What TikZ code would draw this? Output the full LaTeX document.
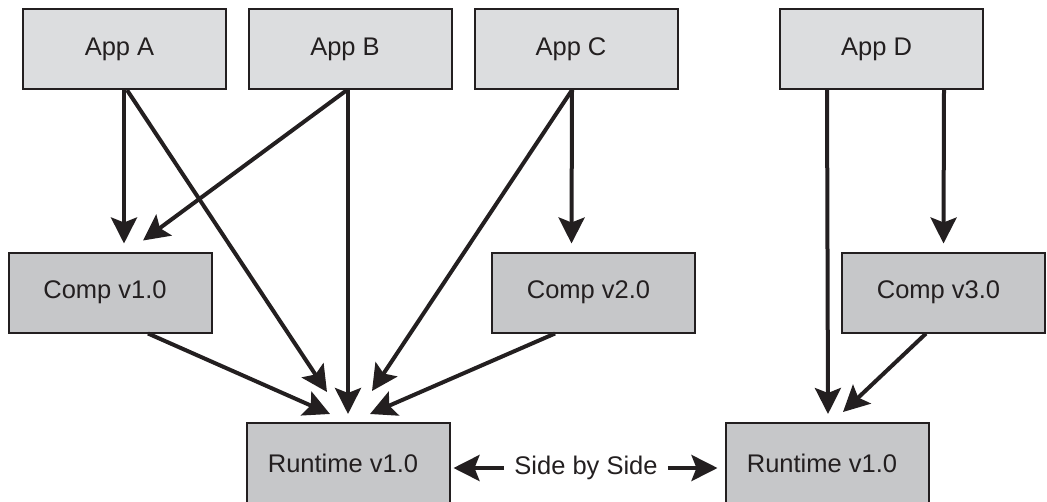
\documentclass[tikz,border=0pt]{standalone}
\usepackage{fontspec}
\setmainfont{Liberation Sans}
\usetikzlibrary{arrows.meta,calc}
\definecolor{ink}{HTML}{231F20}
\definecolor{applight}{HTML}{DCDDDF}
\definecolor{compgrey}{HTML}{C6C7C9}
\tikzset{
  box/.style={draw=ink, line width=2pt, minimum width=203pt, minimum height=80pt,
    inner sep=0pt, font=\fontsize{25.5}{30}\selectfont, text=ink,
    execute at begin node={\hspace*{-10pt}}},
  appbox/.style={box, fill=applight},
  compbox/.style={box, fill=compgrey},
  arr/.style={draw=ink, line width=4pt,
    -{Stealth[length=26pt, width=26pt, inset=5pt]}},
}
\begin{document}
\begin{tikzpicture}[x=1pt, y=-1pt]
\useasboundingbox (0,0) rectangle (1047,501);

% applications
\node[appbox] (appA) at (124.5,49) {App A};
\node[appbox] (appB) at (350,49) {App B};
\node[appbox] (appC) at (576,49) {App C};
\node[appbox] (appD) at (881.5,49) {App D};

% shared components
\node[compbox] (compA) at (110,292.5) {Comp v1.0};
\node[compbox] (compB) at (593.5,292.5) {Comp v2.0};
\node[compbox] (compC) at (943.5,292.5) {Comp v3.0};

% runtimes
\node[compbox] (rtL) at (348,463) {Runtime v1.0};
\node[compbox] (rtR) at (827,463) {Runtime v1.0};

% App A
\draw[arr] ([xshift=-0.5pt]appA.south) -- ([xshift=14pt,yshift=8pt]compA.north);
\draw[arr] ([xshift=2.5pt]appA.south) -- ([xshift=-21pt,yshift=30pt]rtL.north);
% App B
\draw[arr] ([xshift=-3pt]appB.south) -- ([xshift=33pt,yshift=11pt]compA.north);
\draw[arr] ([xshift=-2pt]appB.south) -- ([yshift=8pt]rtL.north);
% App C
\draw[arr] ([xshift=-4pt]appC.south) -- ([xshift=-22pt,yshift=8pt]compB.north);
\draw[arr] ([xshift=-4pt]appC.south) -- ([xshift=24pt,yshift=31pt]rtL.north);
% components into the left runtime
\draw[arr] ([xshift=38pt]compA.south) -- ([xshift=-18pt,yshift=8pt]rtL.north);
\draw[arr] ([xshift=-38.5pt]compB.south) -- ([xshift=22pt,yshift=8pt]rtL.north);
% App D
\draw[arr] ([xshift=-54.5pt]appD.south) -- ([xshift=1pt,yshift=8pt]rtR.north);
\draw[arr] ([xshift=62.5pt]appD.south) -- ([yshift=8pt]compC.north);
\draw[arr] ([xshift=-17.5pt]compC.south) -- ([xshift=16pt,yshift=10pt]rtR.north);

% side by side
\node[font=\fontsize{25.5}{30}\selectfont, text=ink, inner xsep=10pt, inner ysep=0pt]
  (sbs) at (586,468) {Side by Side};
\draw[arr, shorten >=3pt] (sbs.west) -- (rtL.east |- sbs.west);
\draw[arr, shorten >=7pt] (sbs.east) -- (rtR.west |- sbs.east);
\end{tikzpicture}
\end{document}
